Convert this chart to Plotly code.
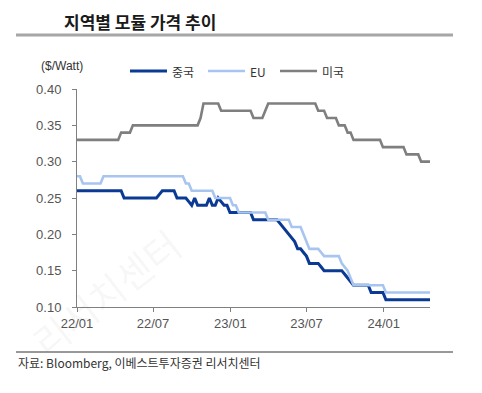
import pandas as pd
import plotly.graph_objects as go

# weekly observations
dates = pd.date_range("2022-01-01", periods=121, freq="7D")

china = [
    0.26, 0.26, 0.26, 0.26, 0.26, 0.26, 0.26, 0.26, 0.26, 0.26, 0.26, 0.26, 0.26, 0.26, 0.26, 0.26,
    0.25, 0.25, 0.25, 0.25, 0.25, 0.25, 0.25, 0.25, 0.25, 0.25, 0.25, 0.25,
    0.255,
    0.26, 0.26, 0.26, 0.26, 0.26,
    0.25, 0.25, 0.25, 0.25,
    0.245, 0.24, 0.25, 0.24, 0.24, 0.24, 0.24, 0.25, 0.24, 0.24, 0.25, 0.245, 0.24, 0.24,
    0.23, 0.23, 0.23, 0.23, 0.23, 0.23, 0.23, 0.23,
    0.22, 0.22, 0.22, 0.22, 0.22, 0.22, 0.22, 0.22, 0.22,
    0.215, 0.21, 0.205, 0.20, 0.195, 0.19, 0.18, 0.18, 0.175, 0.17,
    0.16, 0.16, 0.16, 0.16, 0.155,
    0.15, 0.15, 0.15, 0.15, 0.15, 0.15, 0.15,
    0.145, 0.14, 0.135,
    0.13, 0.13, 0.13, 0.13, 0.13, 0.13,
    0.12, 0.12, 0.12, 0.12, 0.12,
    0.11, 0.11, 0.11, 0.11, 0.11, 0.11, 0.11, 0.11, 0.11, 0.11, 0.11, 0.11, 0.11, 0.11, 0.11, 0.11,
]

eu = [
    0.28, 0.28,
    0.27, 0.27, 0.27, 0.27, 0.27, 0.27, 0.27,
    0.28, 0.28, 0.28, 0.28, 0.28, 0.28, 0.28, 0.28, 0.28, 0.28, 0.28, 0.28, 0.28, 0.28,
    0.28, 0.28, 0.28, 0.28, 0.28, 0.28, 0.28, 0.28, 0.28, 0.28, 0.28, 0.28, 0.28, 0.28,
    0.27, 0.27,
    0.26, 0.26, 0.26, 0.26, 0.26, 0.26, 0.26, 0.26,
    0.25, 0.25, 0.25, 0.25, 0.25, 0.25,
    0.24, 0.24,
    0.23, 0.23, 0.23, 0.23, 0.23, 0.23, 0.23, 0.23, 0.23, 0.23,
    0.22, 0.22, 0.22, 0.22, 0.22, 0.22, 0.22, 0.22,
    0.21, 0.21, 0.21, 0.21,
    0.20, 0.19,
    0.18, 0.18, 0.18, 0.18, 0.175,
    0.17, 0.17, 0.17, 0.17, 0.17, 0.17,
    0.16, 0.155, 0.15, 0.14,
    0.13, 0.13, 0.13, 0.13, 0.13, 0.13, 0.13, 0.13, 0.13, 0.13, 0.13,
    0.12, 0.12, 0.12, 0.12, 0.12, 0.12, 0.12, 0.12, 0.12, 0.12, 0.12, 0.12, 0.12, 0.12, 0.12, 0.12,
]

usa = [
    0.33, 0.33, 0.33, 0.33, 0.33, 0.33, 0.33, 0.33, 0.33, 0.33, 0.33, 0.33, 0.33, 0.33, 0.33,
    0.34, 0.34, 0.34, 0.34,
    0.35, 0.35, 0.35, 0.35, 0.35, 0.35, 0.35, 0.35, 0.35, 0.35, 0.35, 0.35, 0.35, 0.35, 0.35,
    0.35, 0.35, 0.35, 0.35, 0.35, 0.35, 0.35, 0.35,
    0.36,
    0.38, 0.38, 0.38, 0.38, 0.38, 0.38,
    0.37, 0.37, 0.37, 0.37, 0.37, 0.37, 0.37, 0.37, 0.37, 0.37, 0.37,
    0.36, 0.36, 0.36, 0.36,
    0.37,
    0.38, 0.38, 0.38, 0.38, 0.38, 0.38, 0.38, 0.38, 0.38, 0.38, 0.38, 0.38, 0.38, 0.38, 0.38, 0.38, 0.38,
    0.37, 0.37, 0.37,
    0.36, 0.36, 0.36, 0.36,
    0.35, 0.35, 0.35,
    0.34, 0.34,
    0.33, 0.33, 0.33, 0.33, 0.33, 0.33, 0.33, 0.33, 0.33, 0.33,
    0.32, 0.32, 0.32, 0.32, 0.32, 0.32, 0.32, 0.32,
    0.31, 0.31, 0.31, 0.31, 0.31,
    0.30, 0.30, 0.30, 0.30,
]

series_names = ["중국", "EU", "미국"]
tick_dates = ["2022-01-01", "2022-07-01", "2023-01-01", "2023-07-01", "2024-01-01"]
tick_labels = ["22/01", "22/07", "23/01", "23/07", "24/01"]
y_ticks = [0.10, 0.15, 0.20, 0.25, 0.30, 0.35, 0.40]

colors = ["#0b3a94", "#a8c5ef", "#7f7f7f"]
widths = [3, 2.6, 2.6]

fig = go.Figure()
for name, vals, c, w in zip(series_names, [china, eu, usa], colors, widths):
    fig.add_trace(go.Scatter(x=dates, y=vals, mode="lines", name=name,
                             line=dict(color=c, width=w), showlegend=False))

KR = "Noto Sans CJK KR"
NUM = "Liberation Sans Narrow, Liberation Sans, Arial"

fig.update_layout(
    width=482, height=393,
    margin=dict(l=77, r=52, t=89, b=86),
    paper_bgcolor="white", plot_bgcolor="white",
    showlegend=False,
    xaxis=dict(range=[dates[0], dates[-1]], tickvals=tick_dates, ticktext=tick_labels,
               showgrid=False, zeroline=False, showline=True, linecolor="#808080",
               linewidth=1, ticks="outside", ticklen=4, tickcolor="#808080",
               tickfont=dict(family=NUM, size=13, color="#555555")),
    yaxis=dict(range=[0.10, 0.40], tickvals=y_ticks, tickformat=".2f",
               showgrid=False, zeroline=False, showline=True, linecolor="#808080",
               linewidth=1, ticks="outside", ticklen=4, tickcolor="#808080",
               ticklabelstandoff=8,
               tickfont=dict(family=NUM, size=13, color="#555555")),
)

def px_x(p):
    return (p - 77) / 353.0

def px_y(p):
    return (307 - p) / 218.0

# legend drawn as line samples + labels
legend_line_x = [(130, 167), (208, 245), (280, 317)]
for (x0, x1), name, c, w in zip(legend_line_x, series_names, colors, widths):
    fig.add_shape(type="line", xref="paper", yref="paper", x0=px_x(x0), x1=px_x(x1),
                  y0=px_y(71), y1=px_y(71), line=dict(color=c, width=w))
    fig.add_annotation(text=name, xref="paper", yref="paper", x=px_x(x1 + 3), y=px_y(71),
                       xanchor="left", yanchor="middle", showarrow=False,
                       font=dict(family=KR, size=12, color="#333333"))

fig.add_shape(type="line", xref="paper", yref="paper", x0=px_x(16), x1=px_x(453),
              y0=px_y(35), y1=px_y(35), line=dict(color="#a6a6a6", width=3))
fig.add_shape(type="line", xref="paper", yref="paper", x0=px_x(16), x1=px_x(453),
              y0=px_y(352), y1=px_y(352), line=dict(color="#333333", width=1))

fig.add_annotation(text="지역별 모듈 가격 추이", xref="paper", yref="paper",
                   x=px_x(62), y=px_y(21), xanchor="left", yanchor="middle",
                   showarrow=False, font=dict(family=KR, size=17, color="#1a1a1a", weight="bold"))
fig.add_annotation(text="($/Watt)", xref="paper", yref="paper",
                   x=px_x(39), y=px_y(66), xanchor="left", yanchor="middle",
                   showarrow=False, font=dict(family="Liberation Sans, Arial", size=12, color="#333333"))
fig.add_annotation(text="자료: Bloomberg, 이베스트투자증권 리서치센터", xref="paper", yref="paper",
                   x=px_x(16), y=px_y(362), xanchor="left", yanchor="middle",
                   showarrow=False, font=dict(family=KR, size=12, color="#333333"))
fig.add_annotation(text="리서치센터", xref="paper", yref="paper",
                   x=px_x(105), y=px_y(292), xanchor="center", yanchor="middle", textangle=-38,
                   showarrow=False, font=dict(family=KR, size=38, color="rgba(0,0,0,0.05)"))

fig.write_html("out.html", config={"displayModeBar": False, "staticPlot": True},
               post_script="document.body.style.margin='0px';")
